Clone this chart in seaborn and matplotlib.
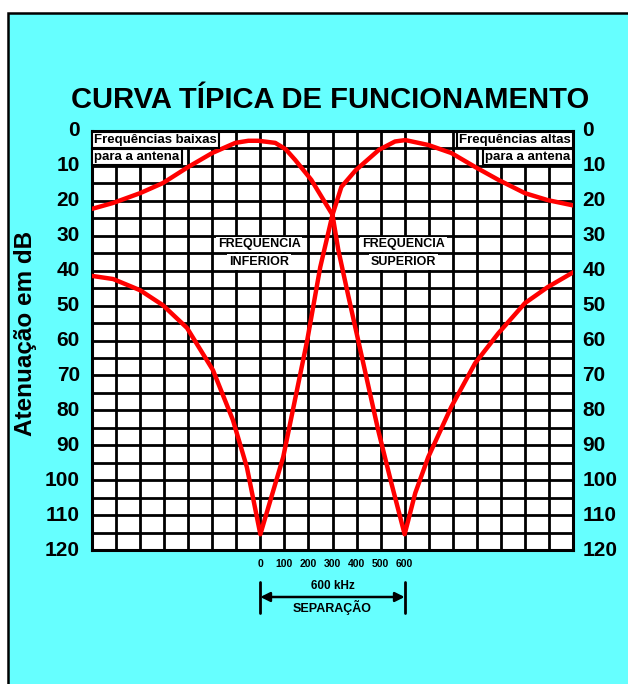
import numpy as np
import pandas as pd
import matplotlib
matplotlib.use("Agg")
import matplotlib.pyplot as plt
from matplotlib.patches import Rectangle
import matplotlib.transforms as mtransforms
import seaborn as sns

# ---- data (kHz offset vs attenuation dB) ----
inf_x = [-700, -612, -500, -405, -300, -200, -104, -50, -8, 62, 105, 145, 212, 270, 300,
         324, 365, 407, 490, 545, 600, 644, 698, 794, 893, 990, 1100, 1195, 1300]
inf_y = [22.3, 20.6, 17.8, 14.9, 10.3, 6.3, 3.4, 2.8, 2.8, 3.4, 5.2, 8.3, 14.0, 20.6, 24.0,
         34.0, 47.0, 60.0, 85.7, 100.9, 115.5, 103.7, 93.4, 79.0, 66.5, 57.9, 49.3, 44.7,
         40.5]
sup_x = [-700, -612, -500, -405, -305, -197, -114, -56, 0, 95, 195, 249, 300,
         337, 397, 493, 560, 603, 698, 794, 893, 990, 1100, 1195, 1300]
sup_y = [41.5, 42.4, 45.6, 49.9, 56.4, 68.5, 82.8, 96.3, 115.5, 93.4, 59.9, 39.0, 24.0,
         16.0, 11.2, 5.4, 3.0, 2.6, 4.0, 6.3, 10.3, 14.0, 17.8, 19.8, 21.3]
y_ticks = [0, 10, 20, 30, 40, 50, 60, 70, 80, 90, 100, 110, 120]
x_tick_vals = [0, 100, 200, 300, 400, 500, 600]
x_tick_labels = ["0", "100", "200", "300", "400", "500", "600"]

df = pd.concat([
    pd.DataFrame({"kHz": inf_x, "dB": inf_y, "canal": "inferior"}),
    pd.DataFrame({"kHz": sup_x, "dB": sup_y, "canal": "superior"}),
])

sns.set_theme(style="white")
plt.rcParams["font.family"] = ["Liberation Sans", "DejaVu Sans"]
plt.rcParams["font.weight"] = "bold"
plt.rcParams["text.color"] = "black"

W, H = 628, 684
fig = plt.figure(figsize=(W / 100, H / 100), dpi=100, facecolor="white")
fig.patches.append(Rectangle((8 / W, -0.05), 1.1, (H - 13) / H + 0.05,
                             transform=fig.transFigure, facecolor="#66FFFF",
                             edgecolor="black", lw=1.8, zorder=-10))

L, R, T, B = 92, 573, 131, 550
ax = fig.add_axes([L / W, 1 - B / H, (R - L) / W, (B - T) / H])
ax.set_zorder(5)
ax.set_facecolor("white")

sns.lineplot(data=df, x="kHz", y="dB", hue="canal", palette=["#FF0000", "#FF0000"],
             estimator=None, sort=False, legend=False, lw=3.2, ax=ax, zorder=3)
for ln in ax.lines:
    ln.set_solid_joinstyle("round")

ax.set_xlim(-700, 1300)
ax.set_ylim(120, 0)
ax.set_xticks(np.arange(-700, 1301, 100))
ax.set_yticks(np.arange(0, 121, 5))
ax.grid(True, color="black", lw=2.0)
ax.set_axisbelow(True)
ax.tick_params(length=0, labelleft=False, labelbottom=False)
for s in ax.spines.values():
    s.set_color("black")
    s.set_linewidth(2.2)
ax.set_xlabel("")
ax.set_ylabel("")

# y tick labels on both sides
for v in y_ticks:
    ax.text(-0.025, v, str(v), transform=ax.get_yaxis_transform(), ha="right",
            va="center", fontsize=15, fontweight="bold", color="black", clip_on=False)
    ax.text(1.02, v, str(v), transform=ax.get_yaxis_transform(), ha="left",
            va="center", fontsize=15, fontweight="bold", color="black", clip_on=False)

# x tick labels (kHz)
bt = mtransforms.blended_transform_factory(ax.transData, fig.transFigure)
for v, lab in zip(x_tick_vals, x_tick_labels):
    ax.text(v, 1 - 564 / H, lab, transform=bt, ha="center", va="center",
            fontsize=7.5, fontweight="bold", color="black", clip_on=False)

# separation arrow
y_arr = 1 - 597 / H
ax.annotate("", xy=(0, y_arr), xytext=(600, y_arr), xycoords=bt, textcoords=bt,
            arrowprops=dict(arrowstyle="<|-|>", color="black", lw=1.8,
                            mutation_scale=14, shrinkA=0, shrinkB=0),
            annotation_clip=False)
for xv in (0, 600):
    ax.plot([xv, xv], [1 - 582 / H, 1 - 613 / H], transform=bt, color="black",
            lw=2, clip_on=False)
ax.text(300, 1 - 586 / H, "600 kHz", transform=bt, ha="center", va="center",
        fontsize=8.5, fontweight="bold", color="black")
ax.text(300, 1 - 607 / H, "SEPARAÇÃO", transform=bt, ha="center", va="center",
        fontsize=9, fontweight="bold", color="black")

# titles
fig.text(330 / W, 1 - 100 / H, "CURVA TÍPICA DE FUNCIONAMENTO", ha="center",
         va="center", fontsize=21, fontweight="bold", color="black")
fig.text(26 / W, 1 - 333 / H, "Atenuação em dB", rotation=90, ha="center",
         va="center", fontsize=17.5, fontweight="bold", color="black")

# corner boxes
box = dict(facecolor="white", edgecolor="black", lw=1.5, boxstyle="square,pad=0.15")
ax.text(-690, 2.5, "Frequências baixas", ha="left", va="center", fontsize=9.5,
        fontweight="bold", bbox=box, zorder=5, color="black")
ax.text(-690, 7.5, "para a antena", ha="left", va="center", fontsize=9.5,
        fontweight="bold", bbox=box, zorder=5, color="black")
ax.text(1290, 2.5, "Frequências altas", ha="right", va="center", fontsize=9.5,
        fontweight="bold", bbox=box, zorder=5, color="black")
ax.text(1290, 7.5, "para a antena", ha="right", va="center", fontsize=9.5,
        fontweight="bold", bbox=box, zorder=5, color="black")

# channel labels
wbox = dict(facecolor="white", edgecolor="none", boxstyle="square,pad=0.15")
for xc, name in ((-5, "INFERIOR"), (595, "SUPERIOR")):
    ax.text(xc, 32.5, "FREQUENCIA", ha="center", va="center", fontsize=9,
            fontweight="bold", bbox=wbox, zorder=2.5, color="black")
    ax.text(xc, 37.5, name, ha="center", va="center", fontsize=9,
            fontweight="bold", bbox=wbox, zorder=2.5, color="black")

fig.savefig("out.png", dpi=100, facecolor="white")
